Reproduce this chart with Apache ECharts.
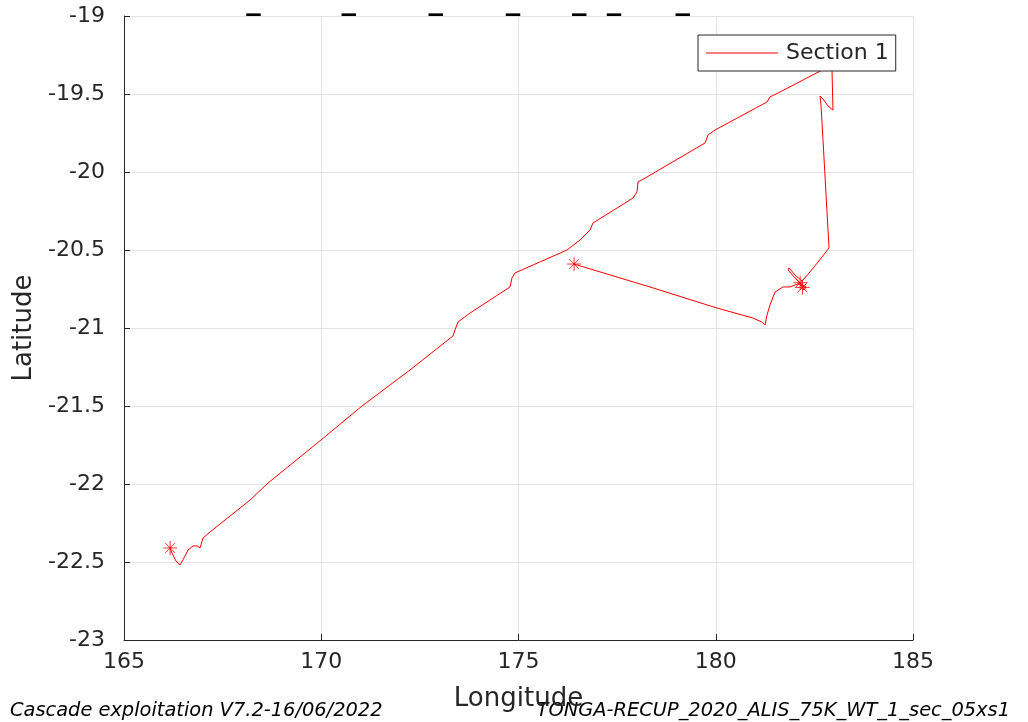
<!DOCTYPE html>
<html>
<head>
<meta charset="utf-8">
<script src="https://cdn.jsdelivr.net/npm/echarts@6/dist/echarts.min.js"></script>
<style>
html,body{margin:0;padding:0;background:#fff;}
#chart{width:1028px;height:722px;}
</style>
</head>
<body>
<div id="chart"></div>
<script>
// Track (section 1)
const lon = [166.166,166.217,166.318,166.420,166.521,166.622,166.749,166.850,166.927,167.003,167.180,168.194,168.650,169.994,171.033,172.250,173.340,173.390,173.466,173.771,174.785,174.835,174.911,176.230,176.559,176.812,176.888,177.902,178.004,178.029,178.257,179.728,179.804,179.981,181.299,181.375,181.629,182.845,182.896,182.947,182.972,182.846,182.719,182.643,182.668,182.719,182.871,182.592,182.389,182.187,182.009,181.857,181.832,182.009,182.136,182.237,182.288,182.136,181.882,181.705,181.502,181.375,181.299,181.249,181.172,180.944,180.032,178.333,177.573,176.407];
const lat = [-22.410,-22.442,-22.494,-22.519,-22.474,-22.423,-22.397,-22.397,-22.410,-22.346,-22.308,-22.103,-21.994,-21.718,-21.500,-21.269,-21.051,-21.013,-20.962,-20.904,-20.737,-20.679,-20.647,-20.500,-20.436,-20.372,-20.327,-20.167,-20.128,-20.064,-20.032,-19.814,-19.763,-19.731,-19.551,-19.519,-19.487,-19.327,-19.321,-19.346,-19.603,-19.577,-19.532,-19.513,-19.571,-19.795,-20.487,-20.577,-20.641,-20.699,-20.660,-20.615,-20.628,-20.679,-20.712,-20.756,-20.737,-20.712,-20.737,-20.737,-20.769,-20.853,-20.917,-20.981,-20.962,-20.936,-20.872,-20.737,-20.679,-20.590];
// Asterisk markers
const starLon = [166.17, 176.41, 182.14, 182.20];
const starLat = [-22.41, -20.59, -20.71, -20.74];
// Axes
const xMin = 165, xMax = 185, xStep = 5;
const yMin = -23, yMax = -19, yStep = 0.5;
const seriesName = 'Section 1';
const titleText = 'TONGA-RECUP_2020_ALIS_75K_WT_1_sec_05xs1';
const footerLeft = 'Cascade exploitation V7.2-16/06/2022';
const footerRight = 'TONGA-RECUP_2020_ALIS_75K_WT_1_sec_05xs1';

const track = lon.map((v, i) => [v, lat[i]]);
const stars = starLon.map((v, i) => [v, starLat[i]]);
const axisCol = '#262626';
const font = 'DejaVu Sans';

// title as rich text: underscores sit lower (as in the TeX-rendered original)
const titleRich = titleText.split('_').map(s => '{a|' + s + '}').join('{u|_}');

const chart = echarts.init(document.getElementById('chart'), null, {renderer: 'canvas'});
chart.setOption({
  backgroundColor: '#ffffff',
  animation: false,
  textStyle: {fontFamily: font},
  grid: {left: 124, right: 115, top: 16, bottom: 82, containLabel: false},
  xAxis: {
    type: 'value', min: xMin, max: xMax, interval: xStep,
    name: 'Longitude', nameLocation: 'middle', nameGap: 46,
    nameTextStyle: {fontSize: 26, color: axisCol, fontFamily: font},
    axisLine: {show: true, onZero: false, lineStyle: {color: axisCol, width: 1}},
    axisTick: {show: true, inside: true, length: 6, lineStyle: {color: axisCol}},
    axisLabel: {fontSize: 22, color: axisCol, margin: 11, fontFamily: font},
    splitLine: {show: true, lineStyle: {color: '#e3e3e3', width: 1}}
  },
  yAxis: {
    type: 'value', min: yMin, max: yMax, interval: yStep,
    name: 'Latitude', nameLocation: 'middle', nameGap: 73, nameRotate: 90,
    nameTextStyle: {fontSize: 26, color: axisCol, fontFamily: font},
    axisLine: {show: true, onZero: false, lineStyle: {color: axisCol, width: 1}},
    axisTick: {show: true, inside: true, length: 6, lineStyle: {color: axisCol}},
    axisLabel: {fontSize: 22, color: axisCol, margin: 19, fontFamily: font},
    splitLine: {show: true, lineStyle: {color: '#e3e3e3', width: 1}}
  },
  legend: {
    show: true, left: 698, top: 35,
    data: [{name: seriesName, icon: 'rect'}],
    orient: 'vertical',
    backgroundColor: '#ffffff', borderColor: '#262626', borderWidth: 1,
    padding: [7, 7, 7, 8],
    itemWidth: 72, itemHeight: 1,
    itemStyle: {color: '#ff0000'},
    textStyle: {fontSize: 22, color: axisCol, fontFamily: font, padding: [0, 0, 0, 3], lineHeight: 22}
  },
  graphic: [
    {type: 'text', left: 11, top: -24, silent: true,
      style: {
        text: titleRich, fill: '#000',
        rich: {
          a: {fontFamily: font, fontWeight: 'bold', fontSize: 29, verticalAlign: 'top', lineHeight: 40, fill: '#000'},
          u: {fontFamily: font, fontWeight: 'bold', fontSize: 29, verticalAlign: 'bottom', lineHeight: 40, fill: '#000'}
        }
      }},
    {type: 'text', left: 10, top: 701, silent: true,
      style: {text: footerLeft, font: 'italic 19.4px "DejaVu Sans"', fill: '#000'}},
    {type: 'text', right: 18, top: 701, silent: true,
      style: {text: footerRight, font: 'italic 19.4px "DejaVu Sans"', fill: '#000'}}
  ],
  series: [
    {
      name: seriesName, type: 'line', data: track,
      symbol: 'none', showSymbol: false, smooth: false,
      lineStyle: {color: '#ff0000', width: 1},
      itemStyle: {color: '#ff0000'},
      z: 3
    },
    {
      name: 'stars', type: 'scatter', data: stars,
      symbol: 'path://M0,-10L0,10M-10,0L10,0M-7,-7L7,7M-7,7L7,-7',
      symbolSize: 14,
      itemStyle: {color: 'rgba(0,0,0,0)', borderColor: '#ff0000', borderWidth: 1},
      z: 4
    }
  ]
});
</script>
</body>
</html>
